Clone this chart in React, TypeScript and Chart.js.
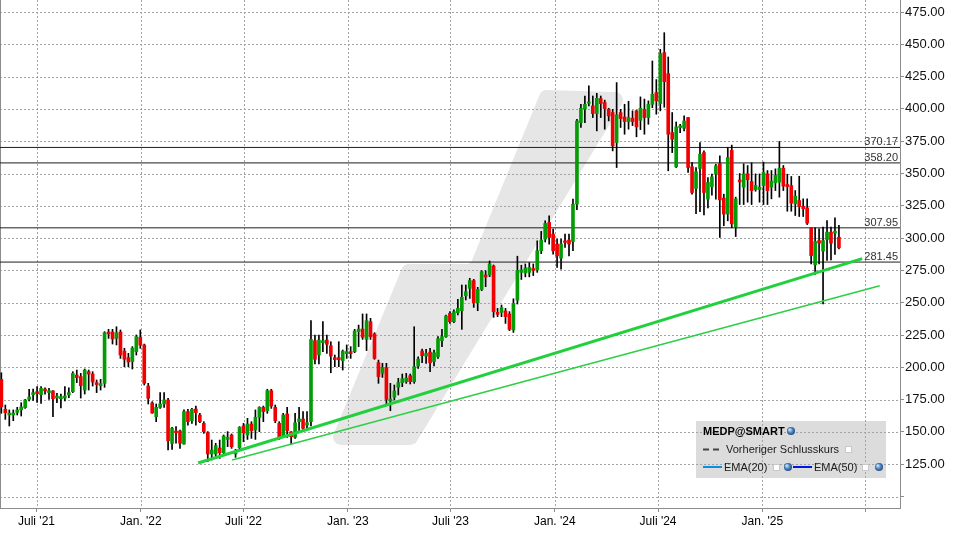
import { useEffect, useRef } from 'react';
import { Chart, registerables } from 'chart.js';

Chart.register(...registerables);

// Weekly candles, first week dated Friday 30 Apr 2021
const FIRST_WEEK = Date.UTC(2021, 3, 30);
const DAY_MS = 86400000;

const opens = [
  190.7, 167.5, 163.1, 163.1, 165.1, 167, 168.8, 175.2, 178.8, 181.1,
  178.8, 183.2, 180.4, 181.7, 176.2, 175.7, 176.2, 178.6, 181.1, 194,
  192.8, 182.4, 196.6, 194.8, 188.1, 185.8, 187.6, 227.3, 227.3, 222.4,
  227.3, 212.6, 207.5, 204.4, 212.1, 223.2, 217.3, 185.5, 172.4, 161.8,
  169, 171.6, 174.7, 141.1, 150.7, 150.7, 140.6, 165.7, 158.7, 167.7,
  163.1, 156.6, 149.4, 132.9, 132.9, 137.5, 133.9, 144.2, 147.6, 132.9,
  137.8, 154.6, 147.6, 156.1, 151.5, 161.3, 169, 166.4, 181.9, 169,
  156.6, 146.3, 163.9, 150, 145.8, 157.9, 160, 155.3, 157.9, 220.6,
  209.5, 219.1, 221.1, 216.7, 207.5, 207.5, 205.1, 210.6, 212.1, 212.1,
  227.6, 229.6, 221.6, 235.3, 225.8, 203.6, 195.3, 199.7, 173.9, 176.8,
  184.5, 188.1, 188.9, 193.5, 188.9, 201, 212.6, 208.7, 211.8, 204.4,
  208.2, 220.6, 223.7, 241.8, 235.3, 242.3, 243.8, 255.4, 261.1, 267.1,
  250, 260.3, 271.4, 271.4, 278.4, 242.5, 242.5, 243.6, 241.3, 229,
  252, 273.5, 273, 273.5, 276.5, 275.3, 290.2, 299.2, 312.1, 303.1,
  295.4, 284.5, 297.9, 298.5, 297.4, 326.3, 389.4, 399.7, 404.4, 402.3,
  396.4, 408, 404.9, 399.7, 397.2, 374, 397.2, 393.8, 390.2, 392.8,
  398.5, 391.2, 399.7, 393.3, 403.6, 412.6, 404.1, 443.6, 427.3, 381.7,
  355.2, 385.6, 385, 393.3, 355.2, 338.4, 353.9, 366.2, 330.2, 339.7,
  349.5, 357.7, 331, 318.6, 368, 308.5, 345, 339.4, 349.7, 343.8,
  337.6, 337.6, 340.7, 349.7, 339.4, 342.8, 343.3, 354.1, 341.5, 340.7,
  326.5, 329.1, 324.5, 323.4, 307.9, 279.3, 298.1, 289.9, 298.9, 304.6,
  303.8, 300.7,
];

const highs = [
  195.8, 170.8, 167, 167, 169, 172.6, 175.2, 183, 183.2, 185,
  185, 184.2, 183.7, 181.9, 179.9, 179.3, 185, 184.2, 196.6, 197.9,
  195.3, 198.7, 197.9, 196.6, 190.2, 190.7, 227.6, 229.4, 229.4, 231.4,
  228.9, 214.7, 210.8, 216, 225, 228.9, 218, 187.6, 173.4, 171.6,
  180.4, 180.4, 176, 153.5, 154.1, 151.5, 167, 167.5, 168.2, 170,
  164.4, 157.9, 150.2, 143.7, 141.2, 143.7, 147.6, 150.2, 148.4, 136.5,
  154.1, 156.6, 160.5, 157.9, 167, 169.5, 170, 183, 183, 170.8,
  157.9, 164.4, 169, 150.2, 164.4, 169, 165.7, 165.7, 236.1, 225,
  225, 235.3, 225, 219.8, 209.5, 219.8, 213.4, 217.3, 216, 229.4,
  232.7, 241.3, 241.3, 237.9, 226.8, 205.6, 203.1, 203.1, 187.6, 186.3,
  191.5, 194.8, 195.3, 194.8, 231.4, 208.2, 214.2, 213.9, 214.7, 213.4,
  223.7, 229.4, 240.5, 243.1, 244.4, 252.6, 263.7, 263.7, 268.9, 268.1,
  261.9, 274.8, 274.8, 282.3, 279.2, 245.6, 248.2, 245.6, 243.1, 253,
  286, 279, 280, 281, 280, 297.9, 305.2, 313.4, 317.3, 307,
  299.2, 299.2, 303.1, 303.1, 330.2, 392, 403.6, 410, 417.8, 410,
  412.1, 410, 406.8, 400.5, 399.7, 420.4, 399.7, 403.6, 405.9, 398.5,
  399, 409.3, 407.6, 406.2, 437.1, 422.7, 446.1, 459, 440.2, 397.2,
  389.9, 388.1, 394.6, 393.3, 358.5, 354.6, 374, 367.5, 346.9, 349.5,
  357.2, 363.7, 334, 370.1, 372, 331.7, 350, 357.5, 356.2, 358.3,
  349.7, 349.7, 358.8, 352.3, 352.3, 353.6, 374.8, 356.2, 349.5, 347.7,
  336.8, 347.9, 330.4, 330.4, 307.9, 307.9, 307.2, 308.5, 313.6, 308.5,
  315.7, 309.8,
];

const lows = [
  164.4, 159.7, 154.6, 158.7, 163.1, 162.3, 168.2, 173.9, 174.4, 172.9,
  172.1, 179.3, 175.2, 161.8, 172.6, 168.5, 173.9, 176.5, 180.4, 188.1,
  176.2, 179.3, 182.4, 185.5, 180.4, 182.4, 184.5, 222.4, 218, 217.3,
  206.9, 200.5, 200.5, 198.7, 209.5, 214.7, 186.3, 171.6, 164.4, 157.9,
  168.2, 169, 136, 136.5, 141.2, 137.3, 140.6, 155.3, 156.6, 155.3,
  157.1, 148.9, 127, 128.3, 129.5, 129.5, 132.1, 138.6, 137.3, 130.3,
  136.5, 142.4, 144.2, 145, 144.2, 150.2, 157.9, 164.4, 168.2, 157.1,
  144.2, 145.8, 145.8, 140.6, 145, 150.2, 151, 152.8, 154.6, 202.6,
  202.6, 212.1, 210.8, 195.8, 200.5, 200.5, 197.9, 206.9, 206.9, 211.3,
  216, 221.6, 212.9, 221.6, 206.2, 187.6, 192.2, 170.8, 166.4, 174.7,
  178.6, 185, 187.6, 187.1, 187.6, 199.2, 203.6, 203.1, 196.6, 201,
  206.9, 216, 223.2, 234, 234.5, 240.5, 229.4, 252.1, 253.4, 246.4,
  243.8, 259.3, 262.4, 270.1, 238.7, 239.2, 239.2, 234, 228.4, 227,
  249, 268, 270, 270, 271, 273.5, 288, 297, 295.4, 287.6,
  277.3, 276, 292.8, 286.3, 290.2, 322, 385.6, 389.4, 402.3, 393.3,
  383, 393.3, 384.3, 390.7, 367.5, 354.6, 385.6, 380.4, 384.3, 387.1,
  378.4, 384, 380.4, 388.1, 401, 395.9, 398.5, 401.3, 352.1, 366.2,
  354.6, 381.7, 383, 350.8, 334, 319, 320.4, 318, 323.3, 333.2,
  330.2, 300.5, 309.6, 313.4, 308, 301.2, 326, 326, 327.8, 326,
  336.3, 327.8, 326, 326, 330.4, 336.8, 331.7, 336.8, 320.8, 320.8,
  317.5, 316.7, 316.7, 310.5, 280.1, 271.8, 280.1, 249.1, 282.7, 283.2,
  287.3, 291.7,
];

const closes = [
  169.5, 164.9, 164.6, 164.6, 167, 169.3, 174.7, 177, 180.4, 179.6,
  183.7, 181.7, 181.9, 175.7, 177.8, 177.3, 177.8, 180.4, 195.3, 192,
  185.8, 197.9, 194.8, 188.6, 186.6, 187.3, 226.8, 225.8, 221.9, 226.8,
  209.5, 206.2, 204.1, 214.9, 223.7, 217.3, 187.6, 176, 164.6, 169,
  171.6, 174.7, 143.2, 152.8, 149.4, 141.2, 165.7, 157.9, 167.5, 164.9,
  157.9, 150.2, 132.9, 136, 139.3, 133.9, 146.8, 145.8, 138.6, 134.7,
  153.5, 149.4, 156.1, 151, 161.3, 169, 165.7, 181.9, 170, 158.7,
  145.8, 163.1, 151, 146.3, 157.1, 160, 152.8, 157.1, 221.6, 206.2,
  221.1, 220.6, 217.8, 208.7, 205.9, 205.9, 212.6, 212.1, 210.6, 228.1,
  229.6, 223.2, 236.1, 223.7, 206.9, 192.8, 199.7, 175.2, 175.5, 181.7,
  188.1, 191.2, 191.7, 188.9, 200.5, 206.4, 209, 210.8, 203.6, 211.3,
  222.2, 223.7, 239.7, 235.3, 243.1, 245.6, 254.2, 258.5, 267.1, 250,
  260.3, 274, 269.9, 280, 243.1, 241, 246.2, 239.2, 229.4, 249.5,
  275, 275.5, 277, 277.3, 275, 290.2, 298.5, 311.3, 300.5, 290.2,
  286.3, 295.4, 296.6, 295.4, 326.3, 390.7, 400.5, 403.6, 405.4, 396.4,
  408.2, 404.1, 400.3, 394.6, 371.4, 395.4, 392.5, 390.2, 393.3, 390.2,
  386.1, 400.5, 393.3, 403.6, 411.3, 406.2, 442.8, 421.1, 380.4, 376.5,
  386.1, 386.9, 390.7, 354.6, 335.3, 351.3, 365, 335.3, 343.1, 347.4,
  355.9, 329.6, 318.6, 362.4, 311, 330.4, 343.5, 349.7, 345.1, 336.8,
  340.7, 339.4, 350.8, 336.8, 344.1, 348.5, 354.1, 340.2, 339.9, 327,
  332.5, 324.5, 322.7, 311.6, 286.5, 297.4, 296.1, 298.1, 304.6, 296.1,
  305.4, 292.5,
];

const tickDates = ['2021-07-01', '2022-01-01', '2022-07-01', '2023-01-01', '2023-07-01', '2024-01-01', '2024-07-01', '2025-01-01', '2025-07-01'];
const tickLabels = ["Juli '21", "Jan. '22", "Juli '22", "Jan. '23", "Juli '23", "Jan. '24", "Juli '24", "Jan. '25", ''];
const yTicks = [100, 125, 150, 175, 200, 225, 250, 275, 300, 325, 350, 375, 400, 425, 450, 475];
const levels = [370.17, 358.2, 307.95, 281.45];

// support trend lines (day offset from first week, price)
const trendMainDays = [347, 1518];
const trendMainPrices = [125.9, 284.1];
const trendLowDays = [407, 1549];
const trendLowPrices = [128.2, 263.2];

// watermark band outline (day, price), drawn with rounded joins
const wmDays = [599, 721, 1082, 962, 840, 828, 719];
const wmPrices = [146.1, 146.1, 406.9, 408.4, 277.5, 273.8, 273.8];

const X_MIN = -2.4;
const X_MAX = 1584.7;
const Y_MIN = 91.1;
const Y_MAX = 484.3;

const FONT = "'Liberation Sans', Arial, sans-serif";
const tickDays = tickDates.map((d) => (Date.parse(d) - FIRST_WEEK) / DAY_MS);

const GREEN = '#049c04';
const RED = '#f00000';

function globe(ctx: CanvasRenderingContext2D, x: number, y: number) {
  const g = ctx.createRadialGradient(x - 1.5, y - 1.5, 0.5, x, y, 4.5);
  g.addColorStop(0, '#cfe3f7');
  g.addColorStop(0.5, '#4d86c4');
  g.addColorStop(1, '#1a3f6e');
  ctx.fillStyle = g;
  ctx.beginPath();
  ctx.arc(x, y, 4, 0, Math.PI * 2);
  ctx.fill();
}

function checkbox(ctx: CanvasRenderingContext2D, x: number, y: number) {
  ctx.fillStyle = '#ffffff';
  ctx.fillRect(x, y, 7, 7);
  ctx.strokeStyle = '#c8c8c8';
  ctx.lineWidth = 1;
  ctx.strokeRect(x + 0.5, y + 0.5, 6, 6);
}

const decor = {
  id: 'decor',
  beforeDatasetsDraw(chart: any) {
    const { ctx, chartArea: a, scales } = chart;
    const x = scales.x;
    const y = scales.y;
    ctx.save();
    ctx.beginPath();
    ctx.rect(a.left, a.top, a.right - a.left, a.bottom - a.top);
    ctx.clip();
    // watermark
    ctx.fillStyle = '#e6e6e6';
    ctx.strokeStyle = '#e6e6e6';
    ctx.lineWidth = 16;
    ctx.lineJoin = 'round';
    ctx.beginPath();
    wmDays.forEach((d, i) => {
      const px = x.getPixelForValue(d);
      const py = y.getPixelForValue(wmPrices[i]);
      if (i === 0) ctx.moveTo(px, py);
      else ctx.lineTo(px, py);
    });
    ctx.closePath();
    ctx.fill();
    ctx.stroke();
    // legend box background
    ctx.fillStyle = '#dcdcdc';
    ctx.fillRect(a.left + 696, a.top + 421, 190, 57);
    // grid
    ctx.strokeStyle = '#a3a3a3';
    ctx.lineWidth = 1;
    ctx.setLineDash([2, 2]);
    yTicks.forEach((v) => {
      const py = Math.round(y.getPixelForValue(v)) + 0.5;
      ctx.beginPath();
      ctx.moveTo(a.left, py);
      ctx.lineTo(a.right, py);
      ctx.stroke();
    });
    tickDays.forEach((d) => {
      const px = Math.round(x.getPixelForValue(d)) + 0.5;
      ctx.beginPath();
      ctx.moveTo(px, a.top);
      ctx.lineTo(px, a.bottom);
      ctx.stroke();
    });
    ctx.setLineDash([]);
    // left border
    ctx.strokeStyle = '#8c8c8c';
    ctx.beginPath();
    ctx.moveTo(a.left + 0.5, a.top);
    ctx.lineTo(a.left + 0.5, a.bottom);
    ctx.stroke();
    ctx.restore();
  },
  afterDatasetsDraw(chart: any) {
    const { ctx, chartArea: a, scales } = chart;
    const y = scales.y;
    ctx.save();
    // level labels
    ctx.font = `11px ${FONT}`;
    ctx.fillStyle = '#333333';
    ctx.textAlign = 'right';
    ctx.textBaseline = 'alphabetic';
    levels.forEach((lv) => {
      const py = y.getPixelForValue(lv);
      ctx.fillText(lv.toFixed(2), a.right - 2, py - 2);
    });
    // legend content
    const L = a.left;
    const T = a.top;
    ctx.textAlign = 'left';
    ctx.textBaseline = 'middle';
    ctx.fillStyle = '#000000';
    ctx.font = `bold 11px ${FONT}`;
    ctx.fillText('MEDP@SMART', L + 703, T + 432);
    globe(ctx, L + 791, T + 431);
    ctx.strokeStyle = '#444444';
    ctx.lineWidth = 2;
    ctx.setLineDash([6, 4]);
    ctx.beginPath();
    ctx.moveTo(L + 703, T + 449.5);
    ctx.lineTo(L + 723, T + 449.5);
    ctx.stroke();
    ctx.setLineDash([]);
    ctx.font = `11px ${FONT}`;
    ctx.fillStyle = '#1a1a1a';
    ctx.fillText('Vorheriger Schlusskurs', L + 726, T + 450);
    checkbox(ctx, L + 845, T + 446);
    ctx.strokeStyle = '#0a8ee8';
    ctx.lineWidth = 2;
    ctx.beginPath();
    ctx.moveTo(L + 703, T + 467);
    ctx.lineTo(L + 722, T + 467);
    ctx.stroke();
    ctx.fillStyle = '#1a1a1a';
    ctx.fillText('EMA(20)', L + 724, T + 468);
    checkbox(ctx, L + 773, T + 464);
    globe(ctx, L + 788, T + 467);
    ctx.strokeStyle = '#0018d8';
    ctx.lineWidth = 2;
    ctx.beginPath();
    ctx.moveTo(L + 793, T + 467);
    ctx.lineTo(L + 812, T + 467);
    ctx.stroke();
    ctx.fillStyle = '#1a1a1a';
    ctx.fillText('EMA(50)', L + 814, T + 468);
    checkbox(ctx, L + 862, T + 464);
    globe(ctx, L + 879, T + 467);
    ctx.restore();
  },
};

export default function App() {
  const canvasRef = useRef<HTMLCanvasElement | null>(null);

  useEffect(() => {
    document.body.style.margin = '0';
    const canvas = canvasRef.current;
    if (!canvas) return;

    const n = opens.length;
    const wickData = [] as any[];
    const bodyData = [] as any[];
    const bodyColors = [] as string[];
    for (let i = 0; i < n; i++) {
      const o = opens[i];
      const c = closes[i];
      const h = Math.max(highs[i], o, c);
      const l = Math.min(lows[i], o, c);
      wickData.push({ x: i * 7, y: [l, h] });
      bodyData.push({ x: i * 7, y: [Math.min(o, c), Math.max(o, c)] });
      bodyColors.push(c >= o ? GREEN : RED);
    }

    const levelSets = levels.map((lv) => ({
      type: 'line' as const,
      data: [
        { x: X_MIN, y: lv },
        { x: X_MAX, y: lv },
      ],
      borderColor: '#1e1e1e',
      borderWidth: 1,
      pointRadius: 0,
      order: 5,
    }));

    const chart = new Chart(canvas, {
      type: 'bar',
      data: {
        datasets: [
          ...levelSets,
          {
            type: 'bar',
            data: wickData,
            backgroundColor: '#000000',
            barThickness: 1,
            grouped: false,
            order: 4,
          } as any,
          {
            type: 'bar',
            data: bodyData,
            backgroundColor: bodyColors,
            barThickness: 3,
            minBarLength: 1,
            grouped: false,
            order: 3,
          } as any,
          {
            type: 'line',
            data: trendLowDays.map((d, i) => ({ x: d, y: trendLowPrices[i] })),
            borderColor: '#2ccf46',
            borderWidth: 1.5,
            pointRadius: 0,
            order: 2,
          },
          {
            type: 'line',
            data: trendMainDays.map((d, i) => ({ x: d, y: trendMainPrices[i] })),
            borderColor: '#22d03e',
            borderWidth: 3,
            pointRadius: 0,
            order: 1,
          },
        ],
      },
      options: {
        responsive: false,
        animation: false,
        events: [],
        layout: { padding: 0, autoPadding: false } as any,
        plugins: {
          legend: { display: false },
          tooltip: { enabled: false },
        },
        scales: {
          x: {
            type: 'linear',
            min: X_MIN,
            max: X_MAX,
            offset: false,
            afterBuildTicks: (scale: any) => {
              scale.ticks = tickDays.map((v) => ({ value: v }));
            },
            afterFit: (scale: any) => {
              scale.height = 28;
              scale.paddingLeft = 0;
              scale.paddingRight = 0;
              scale.paddingTop = 0;
              scale.paddingBottom = 0;
            },
            grid: {
              drawOnChartArea: false,
              drawTicks: true,
              tickLength: 4,
              color: '#8c8c8c',
              offset: false,
            },
            border: { display: true, color: '#8c8c8c', width: 1 },
            ticks: {
              autoSkip: false,
              maxRotation: 0,
              padding: 2,
              color: '#000000',
              font: { family: FONT, size: 12 },
              callback: (_v: any, idx: number) => tickLabels[idx] ?? '',
            },
          },
          y: {
            type: 'linear',
            position: 'right',
            min: Y_MIN,
            max: Y_MAX,
            afterBuildTicks: (scale: any) => {
              scale.ticks = yTicks.map((v) => ({ value: v }));
            },
            afterFit: (scale: any) => {
              scale.width = 53;
              scale.paddingTop = 0;
              scale.paddingBottom = 0;
              scale.paddingLeft = 0;
              scale.paddingRight = 0;
            },
            grid: {
              drawOnChartArea: false,
              drawTicks: true,
              tickLength: 4,
              color: '#8c8c8c',
            },
            border: { display: true, color: '#8c8c8c', width: 1 },
            ticks: {
              padding: 1,
              color: '#111111',
              font: { family: FONT, size: 13 },
              callback: (v: any) => (v === 100 ? '' : Number(v).toFixed(2)),
            },
          },
        },
      } as any,
      plugins: [decor],
    });

    return () => chart.destroy();
  }, []);

  return (
    <div style={{ position: 'absolute', left: 0, top: 0, width: 953, height: 536, background: '#ffffff' }}>
      <canvas ref={canvasRef} width={953} height={536} style={{ width: 953, height: 536, display: 'block' }} />
    </div>
  );
}
